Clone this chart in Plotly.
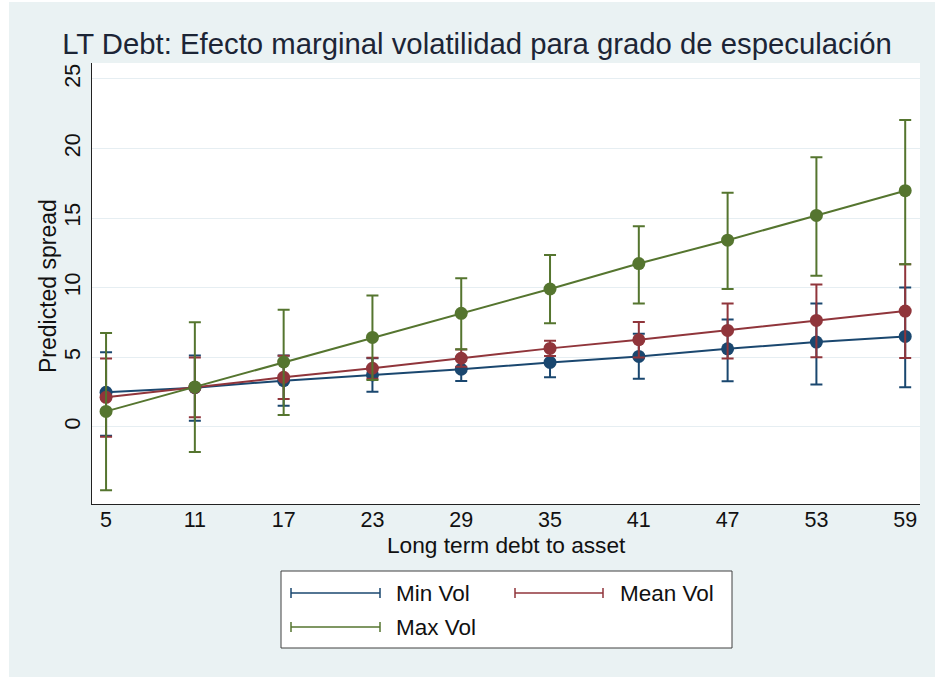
import plotly.graph_objects as go

# ---------------- data ----------------
x_vals = [5, 11, 17, 23, 29, 35, 41, 47, 53, 59]

min_vol = [2.47, 2.80, 3.31, 3.72, 4.13, 4.62, 5.05, 5.60, 6.08, 6.49]
min_vol_lo = [-0.65, 0.43, 1.51, 2.52, 3.29, 3.55, 3.44, 3.27, 3.03, 2.83]
min_vol_hi = [5.36, 5.12, 5.11, 4.92, 4.97, 5.69, 6.68, 7.71, 8.85, 10.00]

mean_vol = [2.11, 2.82, 3.55, 4.20, 4.92, 5.63, 6.25, 6.92, 7.64, 8.31]
mean_vol_lo = [-0.72, 0.67, 1.99, 3.44, 4.30, 5.08, 4.98, 4.90, 5.00, 4.94]
mean_vol_hi = [4.90, 4.97, 5.10, 4.96, 5.55, 6.18, 7.52, 8.85, 10.22, 11.68]

max_vol = [1.10, 2.86, 4.65, 6.42, 8.15, 9.90, 11.73, 13.41, 15.19, 16.97]
max_vol_lo = [-4.57, -1.82, 0.84, 3.36, 5.56, 7.43, 8.85, 9.90, 10.86, 11.68]
max_vol_hi = [6.73, 7.50, 8.40, 9.44, 10.67, 12.34, 14.42, 16.82, 19.37, 22.06]

series_names = ["Min Vol", "Mean Vol", "Max Vol"]
y_ticks = [0, 5, 10, 15, 20, 25]

title_text = "LT Debt: Efecto marginal volatilidad para grado de especulación"
x_title = "Long term debt to asset"
y_title = "Predicted spread"

# ---------------- style ----------------
colors = ["#1A476F", "#90353B", "#55752F"]
page_bg = "#EAF2F3"
FONT = "Liberation Sans, Arial, Helvetica, sans-serif"

W, H = 935, 677
L, R, T, B = 92, 15, 63, 173
PW, PH = W - L - R, H - T - B


def px_x(px):
    return (px - L) / PW


def px_y(py):
    return (H - B - py) / PH


fig = go.Figure()

data = [
    (min_vol, min_vol_lo, min_vol_hi),
    (mean_vol, mean_vol_lo, mean_vol_hi),
    (max_vol, max_vol_lo, max_vol_hi),
]

for name, col, (yv, lo, hi) in zip(series_names, colors, data):
    fig.add_trace(go.Scatter(
        x=x_vals, y=yv, name=name, mode="lines+markers",
        line=dict(color=col, width=2),
        marker=dict(color=col, size=13),
        error_y=dict(type="data", symmetric=False,
                     array=[h - v for h, v in zip(hi, yv)],
                     arrayminus=[v - l for v, l in zip(yv, lo)],
                     color=col, thickness=2, width=6),
        showlegend=False,
    ))

shapes = []
annotations = []

# white strips on the page edges
shapes.append(dict(type="rect", xref="paper", yref="paper",
                   x0=px_x(-20), x1=px_x(9), y0=px_y(700), y1=px_y(-20),
                   fillcolor="white", line=dict(width=0), layer="below"))
shapes.append(dict(type="rect", xref="paper", yref="paper",
                   x0=px_x(-20), x1=px_x(960), y0=px_y(2), y1=px_y(-20),
                   fillcolor="white", line=dict(width=0), layer="below"))

# custom legend
shapes.append(dict(type="rect", xref="paper", yref="paper",
                   x0=px_x(281), x1=px_x(732), y0=px_y(648), y1=px_y(571),
                   fillcolor="white", line=dict(color="#404040", width=1)))
leg_pos = [(291, 380, 593, 394), (515, 603, 593, 618), (291, 380, 627, 394)]
for name, col, (lx0, lx1, ly, tx) in zip(series_names, colors, leg_pos):
    shapes.append(dict(type="line", xref="paper", yref="paper",
                       x0=px_x(lx0), x1=px_x(lx1), y0=px_y(ly), y1=px_y(ly),
                       line=dict(color=col, width=1.5)))
    for cx in (lx0, lx1):
        shapes.append(dict(type="line", xref="paper", yref="paper",
                           x0=px_x(cx), x1=px_x(cx),
                           y0=px_y(ly - 5), y1=px_y(ly + 5),
                           line=dict(color=col, width=1.5)))
    annotations.append(dict(text=name, xref="paper", yref="paper",
                            x=px_x(tx), y=px_y(ly), xanchor="left",
                            yanchor="middle", showarrow=False,
                            font=dict(family=FONT, size=22.5, color="#111")))

# axis titles
annotations.append(dict(text=x_title, xref="paper", yref="paper",
                        x=px_x(506), y=px_y(545), xanchor="center",
                        yanchor="middle", showarrow=False,
                        font=dict(family=FONT, size=22.7, color="#111")))
annotations.append(dict(text=y_title, xref="paper", yref="paper",
                        x=px_x(48), y=px_y(286), xanchor="center",
                        yanchor="middle", showarrow=False, textangle=-90,
                        font=dict(family=FONT, size=23, color="#111")))

fig.update_layout(
    width=W, height=H,
    margin=dict(l=L, r=R, t=T, b=B, pad=0),
    paper_bgcolor=page_bg,
    plot_bgcolor="white",
    title=dict(text=title_text, x=477 / W, xanchor="center",
               y=1 - 44 / H, yanchor="middle",
               font=dict(family=FONT, size=29.3, color="#1c2536")),
    shapes=shapes,
    annotations=annotations,
    showlegend=False,
    xaxis=dict(range=[4.05, 60.0], tickvals=x_vals, ticks="",
               showgrid=False, zeroline=False, showline=True,
               linecolor="#222", linewidth=1, ticklabelstandoff=-4,
               tickfont=dict(family=FONT, size=21.5, color="#111")),
    yaxis=dict(range=[-5.56, 26.15], tickvals=y_ticks, ticks="",
               tickangle=-90, showgrid=True, gridcolor="#E6EEF2",
               gridwidth=1, zeroline=False, showline=True,
               linecolor="#222", linewidth=1, ticklabelstandoff=2,
               tickfont=dict(family=FONT, size=21.5, color="#111")),
)

fig.write_html("out.html",
               config={"displayModeBar": False},
               post_script="document.body.style.margin='0';"
                           "document.body.style.overflow='hidden';")
